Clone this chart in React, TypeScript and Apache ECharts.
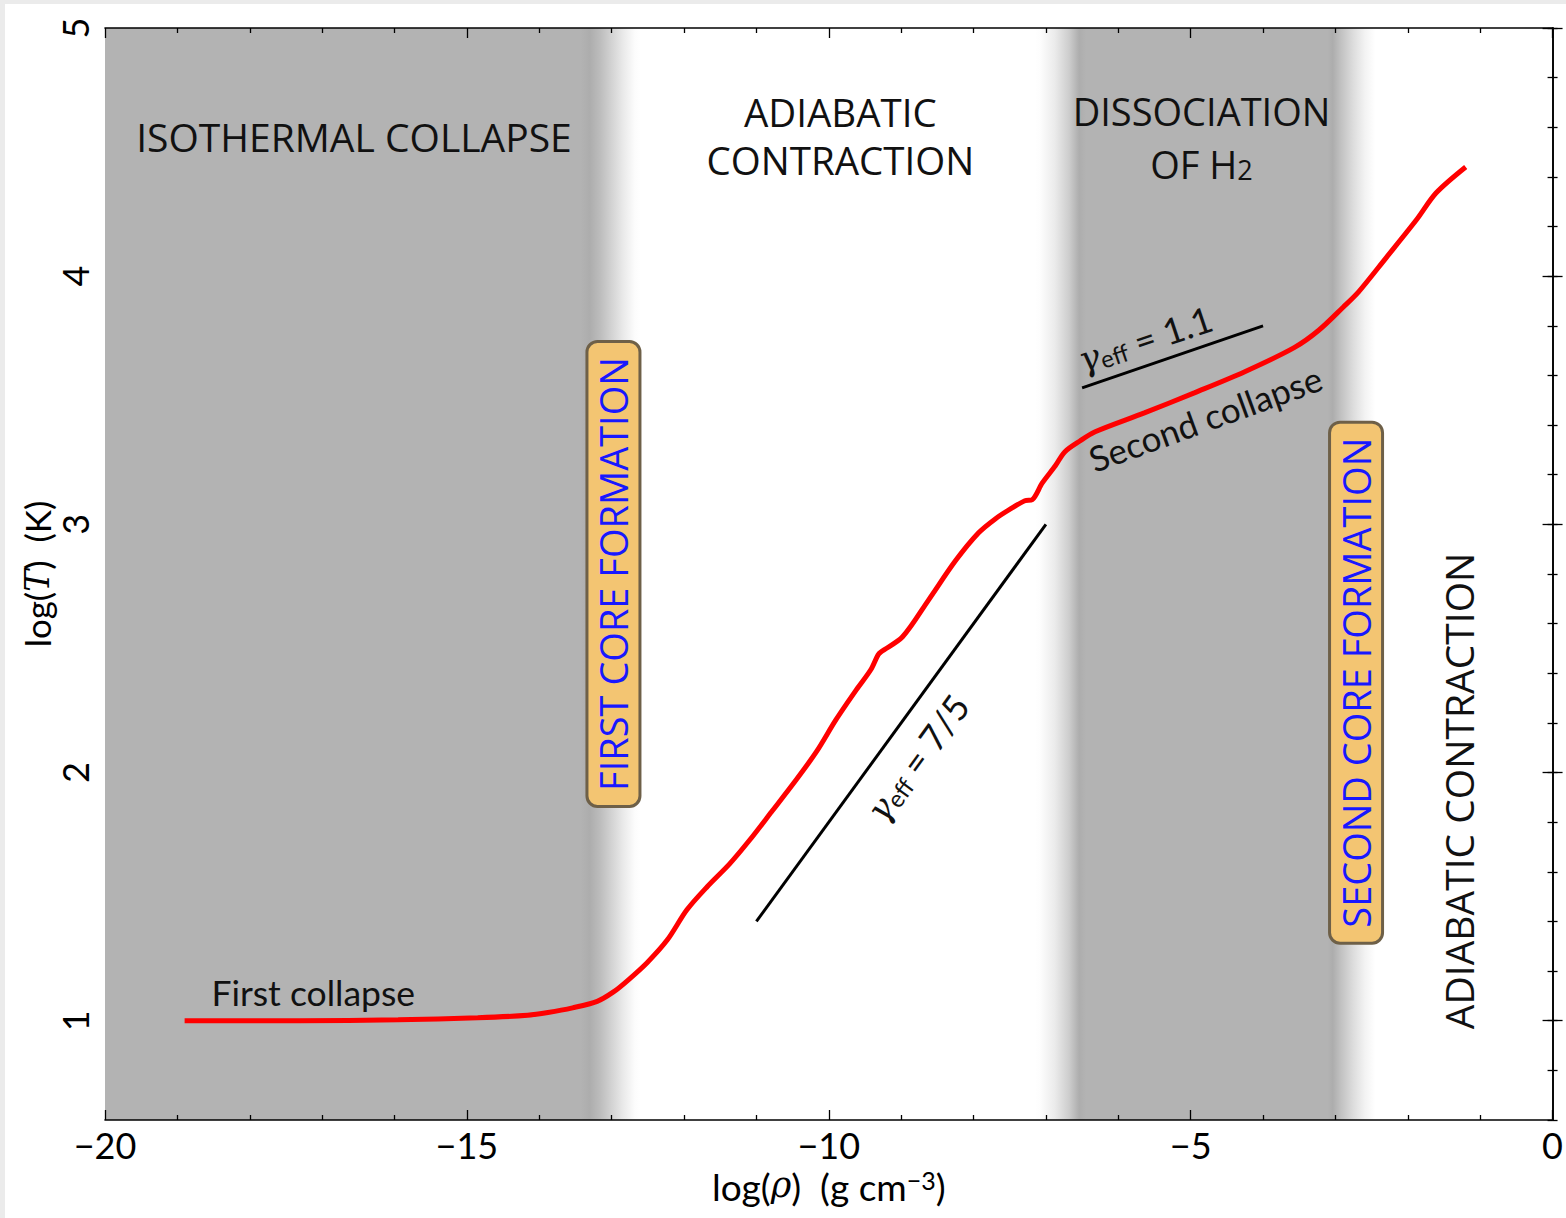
import React, { useEffect, useRef } from 'react';
import * as echarts from 'echarts';

// log(rho) [g cm^-3] and log(T) [K] of the collapse track
const rhoLog = [
  -18.9, -17.32, -15.95, -14.85, -14.16, -13.88, -13.54, -13.2, -12.98, -12.78,
  -12.51, -12.23, -11.96, -11.68, -11.37, -11.09, -10.79, -10.45, -10.17, -9.9,
  -9.62, -9.42, -9.32, -9.28, -8.98, -8.62, -8.25, -7.93, -7.7, -7.49,
  -7.29, -7.19, -7.05, -6.87, -6.74, -6.53, -6.32, -5.64, -4.95, -4.26,
  -3.57, -3.23, -2.89, -2.68, -2.3, -1.88, -1.61, -1.2,
];
const tempLog = [
  1.0, 1.0, 1.004, 1.012, 1.022, 1.033, 1.052, 1.078, 1.115, 1.162,
  1.234, 1.326, 1.447, 1.54, 1.632, 1.729, 1.842, 1.971, 2.084, 2.213,
  2.333, 2.414, 2.474, 2.486, 2.547, 2.696, 2.853, 2.966, 3.022, 3.062,
  3.095, 3.099, 3.167, 3.236, 3.292, 3.336, 3.373, 3.449, 3.53, 3.614,
  3.712, 3.782, 3.876, 3.937, 4.074, 4.227, 4.335, 4.44,
];

// reference slopes
const gamma75Rho = [-11.0, -7.0];
const gamma75T = [1.4, 3.0];
const gamma11Rho = [-6.5, -4.0];
const gamma11T = [3.55, 3.8];

// shaded phases (log rho)
const isothermalBand = [-20, -12.6];
const dissociationBand = [-7.15, -2.45];

// y tick positions (every 0.2), labels at integers
const yTickCategories = [
  '0.6', '0.8', '1.0', '1.2', '1.4', '1.6', '1.8', '2.0', '2.2', '2.4', '2.6', '2.8',
  '3.0', '3.2', '3.4', '3.6', '3.8', '4.0', '4.2', '4.4', '4.6', '4.8', '5.0',
];

const CM = 'Lato, "DejaVu Sans", sans-serif';
const OS = '"Open Sans", "DejaVu Sans", sans-serif';
const SERIF = '"DejaVu Serif", serif';

export default function App() {
  const ref = useRef<HTMLDivElement>(null);

  useEffect(() => {
    const chart = echarts.init(ref.current as HTMLDivElement, null, { renderer: 'svg' });

    const tickLine = { color: '#000', width: 1.3 };
    const isMajor = (_i: number, v: string) => v.endsWith('.0');

    const xBase = {
      type: 'value',
      min: -20,
      max: 0,
      interval: 5,
      z: 10,
      axisLine: { show: true, lineStyle: { color: '#000', width: 1.6 } },
      axisTick: { show: true, inside: true, length: 10, lineStyle: tickLine },
      minorTick: { show: true, splitNumber: 5, length: 5, lineStyle: tickLine },
      splitLine: { show: false },
      minorSplitLine: { show: false },
    };

    const yValueBase = {
      type: 'value',
      min: 0.6,
      max: 5,
      interval: 0.2,
      z: 10,
      axisLine: { show: true, lineStyle: { color: '#000', width: 1.6 } },
      axisTick: { show: true, inside: true, length: 5, lineStyle: tickLine },
      axisLabel: { show: false },
      splitLine: { show: false },
    };

    const yCatBase = {
      type: 'category',
      data: yTickCategories,
      boundaryGap: false,
      z: 10,
      axisLine: { show: false },
      axisTick: { show: true, inside: true, length: 10, interval: isMajor, lineStyle: tickLine },
      splitLine: { show: false },
    };

    const band1Grad = new echarts.graphic.LinearGradient(0, 0, 1, 0, [
      { offset: 0, color: '#b3b3b3' },
      { offset: 0.888, color: '#b3b3b3' },
      { offset: 0.905, color: '#adadad' },
      { offset: 0.925, color: '#bdbdbd' },
      { offset: 0.945, color: '#d2d2d2' },
      { offset: 0.967, color: '#e9e9e9' },
      { offset: 0.989, color: '#fcfcfc' },
      { offset: 1, color: '#ffffff' },
    ]);
    const band2Grad = new echarts.graphic.LinearGradient(0, 0, 1, 0, [
      { offset: 0, color: '#ffffff' },
      { offset: 0.015, color: '#fdfdfd' },
      { offset: 0.058, color: '#ebebeb' },
      { offset: 0.1, color: '#cdcdcd' },
      { offset: 0.13, color: '#adadad' },
      { offset: 0.15, color: '#b3b3b3' },
      { offset: 0.86, color: '#b3b3b3' },
      { offset: 0.875, color: '#adadad' },
      { offset: 0.9, color: '#c2c2c2' },
      { offset: 0.936, color: '#dddddd' },
      { offset: 0.97, color: '#f3f3f3' },
      { offset: 1, color: '#ffffff' },
    ]);

    const option: any = {
      animation: false,
      backgroundColor: '#ffffff',
      grid: { left: 105, top: 28, right: 6, bottom: 98, containLabel: false },
      xAxis: [
        {
          ...xBase,
          position: 'bottom',
          axisLabel: {
            show: true,
            margin: 7,
            color: '#000',
            fontFamily: CM,
            fontSize: 36,
            formatter: (v: number) => (v < 0 ? '\u2212' + Math.abs(v) : String(v)),
          },
          name: '{n|log(}{i|\u03c1}{n|)  (g cm}{s|\u22123}{n|)}',
          nameLocation: 'middle',
          nameGap: 39,
          nameTextStyle: {
            rich: {
              n: { fontFamily: CM, fontSize: 37, color: '#000', lineHeight: 43, verticalAlign: 'top' },
              i: { fontFamily: SERIF, fontStyle: 'italic', fontSize: 35, color: '#000', lineHeight: 43, verticalAlign: 'top' },
              s: { fontFamily: CM, fontSize: 25, color: '#000', lineHeight: 22, verticalAlign: 'top' },
            },
          },
        },
        { ...xBase, position: 'top', axisLabel: { show: false } },
      ],
      yAxis: [
        {
          ...yValueBase,
          position: 'left',
          name: '{n|log(}{i|T}{n|)  (K)}',
          nameLocation: 'middle',
          nameRotate: 90,
          nameGap: 48,
          nameTextStyle: {
            rich: {
              n: { fontFamily: CM, fontSize: 35, color: '#000', lineHeight: 40 },
              i: { fontFamily: SERIF, fontStyle: 'italic', fontSize: 33, color: '#000', lineHeight: 40 },
            },
          },
        },
        {
          ...yCatBase,
          position: 'left',
          axisLabel: {
            show: true,
            interval: isMajor,
            rotate: 90,
            margin: 12,
            color: '#000',
            fontFamily: CM,
            fontSize: 36,
            formatter: (v: string) => String(Math.round(parseFloat(v))),
          },
        },
        { ...yValueBase, position: 'right' },
        { ...yCatBase, position: 'right', axisLabel: { show: false } },
      ],
      series: [
        {
          type: 'line',
          xAxisIndex: 0,
          yAxisIndex: 0,
          data: [],
          z: 1,
          silent: true,
          markArea: {
            silent: true,
            data: [
              [
                { xAxis: isothermalBand[0], itemStyle: { color: band1Grad } },
                { xAxis: isothermalBand[1] },
              ],
              [
                { xAxis: dissociationBand[0], itemStyle: { color: band2Grad } },
                { xAxis: dissociationBand[1] },
              ],
            ],
          },
        },
        {
          type: 'line',
          xAxisIndex: 0,
          yAxisIndex: 0,
          data: rhoLog.map((x, i) => [x, tempLog[i]]),
          showSymbol: false,
          symbol: 'none',
          smooth: 0.3,
          lineStyle: { color: '#ff0000', width: 5 },
          z: 4,
        },
        {
          type: 'line',
          xAxisIndex: 0,
          yAxisIndex: 0,
          data: gamma75Rho.map((x, i) => [x, gamma75T[i]]),
          showSymbol: false,
          symbol: 'none',
          lineStyle: { color: '#000', width: 3 },
          z: 3,
        },
        {
          type: 'line',
          xAxisIndex: 0,
          yAxisIndex: 0,
          data: gamma11Rho.map((x, i) => [x, gamma11T[i]]),
          showSymbol: false,
          symbol: 'none',
          lineStyle: { color: '#000', width: 3 },
          z: 3,
        },
      ],
    };

    chart.setOption(option);

    const px = (x: number, y: number) => chart.convertToPixel({ seriesIndex: 1 }, [x, y]) as number[];
    const deg = Math.PI / 180;

    const h2Rich = {
      n: { fontFamily: OS, fontSize: 38, fill: '#111', lineHeight: 46, verticalAlign: 'bottom' },
      s: { fontFamily: OS, fontSize: 27, fill: '#111', lineHeight: 30, verticalAlign: 'bottom' },
    };
    const gammaRich = {
      g: { fontFamily: SERIF, fontStyle: 'italic', fontSize: 35, fill: '#111', lineHeight: 40, verticalAlign: 'bottom' },
      e: { fontFamily: CM, fontSize: 24, fill: '#111', lineHeight: 20, verticalAlign: 'bottom' },
      n: { fontFamily: CM, fontSize: 36, fill: '#111', lineHeight: 40, verticalAlign: 'bottom' },
    };

    const text = (x: number, y: number, content: string, extra: any = {}, rotationDeg = 0) => {
      const p = px(x, y);
      return {
        type: 'text',
        x: p[0],
        y: p[1],
        rotation: rotationDeg * deg,
        z: 50,
        silent: true,
        style: {
          text: content,
          align: 'center',
          verticalAlign: 'middle',
          fill: '#111',
          fontFamily: OS,
          fontSize: 39,
          ...extra,
        },
      };
    };

    const boxStyle = {
      fill: '#1818ff',
      fontFamily: OS,
      fontSize: 38,
      backgroundColor: '#f3c572',
      borderColor: '#6e6048',
      borderWidth: 3,
      borderRadius: 9,
      padding: [6, 14, 6, 14],
    };

    const graphic: any[] = [
      { type: 'rect', shape: { x: 0, y: 0, width: 1566, height: 4 }, style: { fill: '#ebebeb' }, silent: true, z: 60 },
      { type: 'rect', shape: { x: 0, y: 0, width: 5, height: 1218 }, style: { fill: '#ebebeb' }, silent: true, z: 60 },
      text(-16.56, 4.561, 'ISOTHERMAL COLLAPSE'),
      text(-9.84, 4.662, 'ADIABATIC', { fontSize: 38.5, lineHeight: 40 }),
      text(-9.84, 4.468, 'CONTRACTION', { fontSize: 38.5, lineHeight: 40 }),
      text(-4.85, 4.666, 'DISSOCIATION', { fontSize: 38 }),
      text(-4.85, 4.47, '{n|OF H}{s|2}', { rich: h2Rich }),
      text(-18.53, 1.113, 'First collapse', { align: 'left', fontFamily: CM, fontSize: 35.5 }),
      text(-4.8, 3.429, 'Second collapse', { fontFamily: CM, fontSize: 35 }, 20),
      text(-5.64, 3.755, '{g|\u03b3}{e|eff}{n| = 1.1}', { rich: gammaRich }, 18.5),
      text(-8.8, 2.063, '{g|\u03b3}{e|eff}{n| = 7/5}', { rich: gammaRich }, 54),
      text(-12.975, 2.8, 'FIRST CORE FORMATION', boxStyle, 90),
      text(-2.715, 2.362, 'SECOND CORE FORMATION', boxStyle, 90),
      text(-1.305, 1.926, 'ADIABATIC CONTRACTION', { fontSize: 39 }, 90),
    ];

    chart.setOption({ graphic });

    return () => chart.dispose();
  }, []);

  return (
    <div
      ref={ref}
      style={{ position: 'absolute', left: 0, top: 0, width: 1566, height: 1218 }}
    />
  );
}
